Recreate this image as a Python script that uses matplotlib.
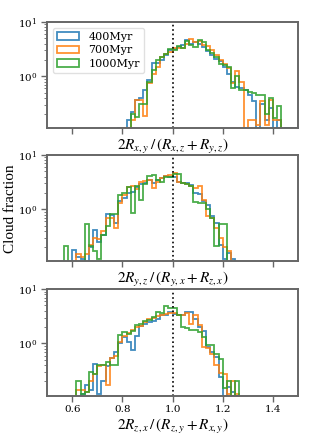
import numpy as np
import matplotlib
matplotlib.use("Agg")
import matplotlib.pyplot as plt

plt.rcParams['font.family'] = ['DejaVu Serif']
plt.rcParams['mathtext.fontset'] = 'dejavuserif'

# histogram bins (ratio axis), shared by all panels
edges = np.linspace(0.5, 1.5, 61)
labels = ['400Myr', '700Myr', '1000Myr']
colors = ['#1f77b4', '#ff7f0e', '#2ca02c']

# panel 1: 2Rxy/(Rxz+Ryz), first bin index = 17
xy_first = 17
xy_400 = [0.11, 0, 0.16, 0.22, 0.36, 0.40, 0.55, 0.84, 1.75, 1.75, 2.0, 2.5, 3.0, 3.2, 3.5, 3.8,
          4.6, 4.0, 4.3, 4.0, 3.4, 2.9, 2.5, 2.1, 1.9, 1.5, 1.1, 0.8, 0.65, 0.62, 0.55, 0.45,
          0.35, 0.11, 0.31, 0.16, 0.26, 0, 0.16, 0, 0.11, 0.11, 0.11]
xy_700 = [0, 0.11, 0.11, 0.16, 0.36, 0.36, 0.19, 0.75, 1.1, 1.5, 2.3, 2.6, 2.8, 3.3, 3.3, 3.3,
          3.9, 4.9, 4.2, 4.5, 3.8, 3.6, 3.0, 2.5, 2.0, 1.7, 1.4, 0.75, 1.25, 0.8, 0, 0.16,
          0.16, 0.13, 0.35, 0.13, 0.36, 0.16, 0.16, 0, 0, 0, 0]
xy_1000 = [0, 0, 0, 0.20, 0.18, 0.31, 0.31, 0.78, 1.3, 2.0, 2.3, 2.6, 3.2, 3.0, 3.6, 3.3,
           4.5, 3.7, 3.5, 4.7, 4.3, 3.0, 2.7, 2.3, 1.7, 1.6, 1.5, 0.6, 1.0, 0.55, 0.55, 0.52,
           0.50, 0.45, 0.45, 0.20, 0.40, 0.17, 0.29, 0, 0, 0, 0]

# panel 2: 2Ryz/(Ryx+Rzx), first bin index = 4
yz_first = 4
yz_400 = [0, 0, 0.18, 0.13, 0.12, 0, 0.20, 0.42, 0.25, 0.34, 0.82, 0.78, 0.55, 1.4, 1.6, 2.0,
          2.1, 2.6, 2.9, 3.0, 3.4, 3.1, 3.5, 3.8, 4.1, 4.0, 4.0, 3.2, 3.1, 3.0, 2.8, 2.0,
          1.9, 1.4, 1.2, 0.75, 0.55, 0.22, 0.12, 0.16, 0.12]
yz_700 = [0, 0, 0, 0.15, 0.13, 0.15, 0.22, 0.30, 0.28, 0.40, 0.68, 0.70, 0.45, 1.3, 1.8, 2.6,
          2.7, 2.4, 3.2, 3.3, 3.4, 2.5, 3.2, 3.8, 4.1, 4.2, 4.6, 3.2, 3.0, 2.9, 2.7, 2.5,
          2.7, 1.5, 0.75, 0.70, 0.45, 0.30, 0.20, 0.17, 0]
yz_1000 = [0.21, 0, 0, 0, 0, 0.53, 0.21, 0.17, 0.12, 0.33, 0.50, 0.82, 0.82, 1.8, 2.0, 2.6,
           0.85, 2.7, 1.45, 2.9, 4.1, 4.3, 3.4, 3.2, 3.9, 3.9, 4.5, 4.5, 3.1, 2.9, 2.7, 1.34,
           1.3, 1.3, 1.0, 0.70, 0.21, 0.54, 0.54, 0, 0]

# panel 3: 2Rzx/(Rzy+Rxy), first bin index = 7
zx_first = 7
zx_400 = [0, 0.12, 0.17, 0.14, 0.41, 0.12, 0.20, 0.38, 0.55, 0.70, 1.0, 1.3, 1.05, 0.75, 1.4, 2.1,
          2.3, 2.5, 2.6, 2.8, 3.3, 3.3, 3.8, 3.5, 3.4, 3.4, 3.8, 3.8, 2.8, 2.0, 1.7, 0.85,
          0.69, 0.56, 0.24, 0.11, 0.16, 0.13, 0.11, 0]
zx_700 = [0.14, 0.14, 0.13, 0.20, 0.28, 0.38, 0.40, 0.17, 0.55, 0.60, 1.05, 1.4, 1.55, 1.8, 2.0, 2.1,
          2.5, 2.8, 2.9, 3.2, 3.4, 3.5, 3.6, 3.6, 3.3, 3.4, 3.6, 2.3, 3.4, 2.2, 0.85, 0.82,
          0.65, 0.40, 0.29, 0.28, 0.12, 0.20, 0.12, 0]
zx_1000 = [0.20, 0.12, 0.13, 0.30, 0.28, 0.40, 0.40, 0.45, 0.40, 0.40, 1.45, 1.6, 1.5, 1.7, 2.2, 2.3,
           2.6, 2.7, 3.1, 3.8, 3.6, 4.8, 4.4, 4.4, 3.3, 2.0, 1.9, 1.8, 1.75, 1.6, 1.3, 0.92,
           0.95, 0.65, 0.52, 0.15, 0.20, 0.11, 0.20, 0]

panels = [
    (xy_first, [xy_400, xy_700, xy_1000], r'$2R_{x,y}\,/\,(R_{x,z}+R_{y,z})$'),
    (yz_first, [yz_400, yz_700, yz_1000], r'$2R_{y,z}\,/\,(R_{y,x}+R_{z,x})$'),
    (zx_first, [zx_400, zx_700, zx_1000], r'$2R_{z,x}\,/\,(R_{z,y}+R_{x,y})$'),
]


def pad(vals, first):
    out = np.zeros(len(edges) - 1)
    out[first:first + len(vals)] = vals
    return out


fig = plt.figure(figsize=(3.14, 4.40), dpi=100)
centers = 0.5 * (edges[:-1] + edges[1:])
tops = [0.950, 0.648, 0.343]
height = 0.242

axes = []
for i, (first, series, xlab) in enumerate(panels):
    ax = fig.add_axes([0.150, tops[i] - height, 0.799, height])
    for vals, lab, c in zip(series, labels, colors):
        ax.hist(centers, bins=edges, weights=pad(vals, first), histtype='step',
                log=True, color=c, lw=1.3, alpha=0.85, label=lab)
    ax.axvline(1.0, color='k', ls=':', lw=1.2)
    ax.set_xlim(0.5, 1.5)
    ax.set_ylim(0.11, 10)
    ax.set_xticks([0.6, 0.8, 1.0, 1.2, 1.4])
    ax.set_xlabel(xlab, fontsize=11, math_fontfamily='stix', labelpad=2)
    for s in ax.spines.values():
        s.set_color('0.4')
        s.set_linewidth(1.4)
    ax.tick_params(axis='both', which='major', labelsize=7.5, color='0.4', length=4,
                   width=1, pad=3)
    ax.tick_params(axis='y', which='minor', color='0.4', length=2, width=0.6)
    ax.yaxis.set_minor_formatter(matplotlib.ticker.NullFormatter())
    if i < 2:
        ax.tick_params(axis='x', labelbottom=False)
    axes.append(ax)

axes[0].legend(loc='upper left', fontsize=8, frameon=True, handlelength=2.0,
               borderpad=0.4, labelspacing=0.3, edgecolor='0.85')
fig.text(0.033, 0.525, 'Cloud fraction', rotation=90, va='center', ha='center',
         fontsize=11, family='Liberation Serif')

fig.savefig('out.png', dpi=100)
